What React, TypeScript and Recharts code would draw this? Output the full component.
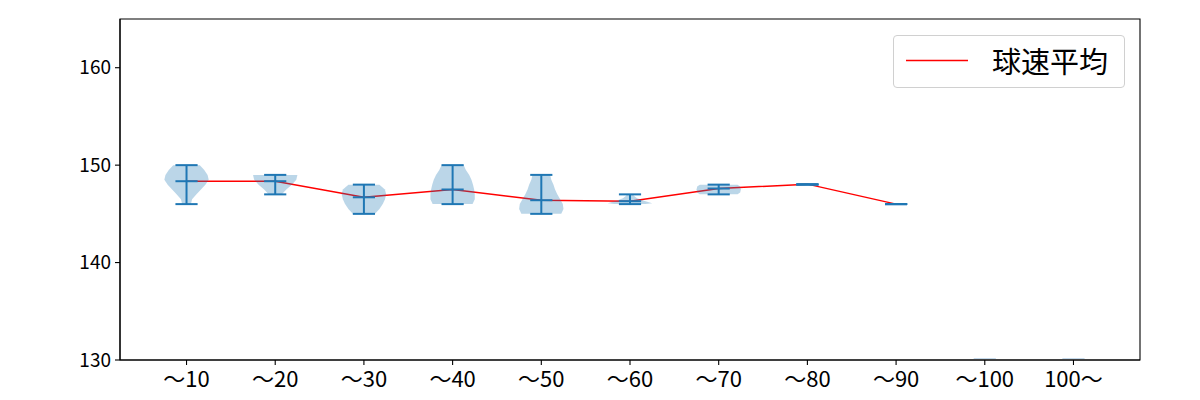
import React from 'react';
import { ComposedChart, XAxis, YAxis, Line, Scatter, ReferenceArea } from 'recharts';

const categories = ['〜10', '〜20', '〜30', '〜40', '〜50', '〜60', '〜70', '〜80', '〜90', '〜100', '100〜'];
const positions = [1, 2, 3, 4, 5, 6, 7, 8, 9, 10, 11];
const minVals: (number | null)[] = [146, 147, 145, 146, 145, 146, 147, 148, 146, null, null];
const maxVals: (number | null)[] = [150, 149, 148, 150, 149, 147, 148, 148, 146, null, null];
const meanVals: (number | null)[] = [148.35, 148.35, 146.7, 147.5, 146.4, 146.3, 147.6, 148.05, 146.0, null, null];
const emptyVals: (number | null)[] = [null, null, null, null, null, null, null, null, null, 130, 130];
const yTicks = [130, 140, 150, 160];
const legendLabel = '球速平均';

// violin density profiles (value, relative half width)
const v1Vals = [150, 149.5, 149, 148.5, 148, 147.5, 147, 146.5, 146];
const v1Dens = [0.6, 0.8, 0.95, 1.0, 0.85, 0.65, 0.45, 0.25, 0.2];
const v2Vals = [149, 148.5, 148, 147.5, 147];
const v2Dens = [1.0, 0.95, 0.75, 0.5, 0.3];
const v3Vals = [148, 147.5, 147, 146.5, 146, 145.5, 145];
const v3Dens = [0.7, 0.95, 1.0, 0.95, 0.85, 0.7, 0.5];
const v4Vals = [150, 149.5, 149, 148.5, 148, 147.5, 147, 146.5, 146];
const v4Dens = [0.5, 0.6, 0.75, 0.85, 0.92, 0.97, 1.0, 1.0, 0.9];
const v5Vals = [149, 148.5, 148, 147.5, 147, 146.5, 146, 145.5, 145];
const v5Dens = [0.4, 0.45, 0.55, 0.62, 0.72, 0.85, 0.97, 1.0, 0.9];
const v6Vals = [147, 146.8, 146.6, 146.4, 146.2, 146.1, 146];
const v6Dens = [0.12, 0.2, 0.32, 0.55, 0.85, 1.0, 0.7];
const v7Vals = [148, 147.8, 147.5, 147.2, 147];
const v7Dens = [0.85, 0.97, 1.0, 0.97, 0.85];

const violinVals = [v1Vals, v2Vals, v3Vals, v4Vals, v5Vals, v6Vals, v7Vals];
const violinDens = [v1Dens, v2Dens, v3Dens, v4Dens, v5Dens, v6Dens, v7Dens];

const VIOLIN_HALF = 0.25;
const BAR_HALF = 0.125;
const BLUE = '#1f77b4';
const FONT = '"Noto Sans CJK JP", "Noto Sans", sans-serif';

function violinPolygon(pos: number, vals: number[], dens: number[]) {
  const right = vals.map((v, i) => ({ x: pos + VIOLIN_HALF * dens[i], y: v }));
  const left = vals.map((v, i) => ({ x: pos - VIOLIN_HALF * dens[i], y: v })).reverse();
  return [...right, ...left];
}

const violinData = violinVals.map((vals, i) => violinPolygon(positions[i], vals, violinDens[i]));

const barSegments: { x: number; y: number }[] = [];
positions.forEach((p, i) => {
  const mn = minVals[i];
  const mx = maxVals[i];
  const me = meanVals[i];
  if (mn == null || mx == null || me == null) return;
  barSegments.push({ x: p, y: mn }, { x: p, y: mx });
  barSegments.push({ x: p - BAR_HALF, y: mn }, { x: p + BAR_HALF, y: mn });
  barSegments.push({ x: p - BAR_HALF, y: mx }, { x: p + BAR_HALF, y: mx });
  barSegments.push({ x: p - BAR_HALF, y: me }, { x: p + BAR_HALF, y: me });
});

const emptySegments: { x: number; y: number }[] = [];
positions.forEach((p, i) => {
  const e = emptyVals[i];
  if (e == null) return;
  emptySegments.push({ x: p - BAR_HALF, y: e }, { x: p + BAR_HALF, y: e });
});

const meanData = positions
  .map((p, i) => ({ x: p, y: meanVals[i] }))
  .filter((d) => d.y != null);

const NoShape = () => <g />;

const makeSegments = (color: string, width: number, opacity: number, dy: number) => (props: any) => {
  const pts = props.points || [];
  const out: React.ReactElement[] = [];
  for (let i = 0; i + 1 < pts.length; i += 2) {
    out.push(
      <line key={i} x1={pts[i].x} y1={pts[i].y + dy} x2={pts[i + 1].x} y2={pts[i + 1].y + dy}
        stroke={color} strokeWidth={width} strokeOpacity={opacity} />
    );
  }
  return <g>{out}</g>;
};

const polygonLine = (props: any) => {
  const pts = props.points || [];
  const s = pts.map((p: any) => `${p.x},${p.y}`).join(' ');
  return <polygon points={s} fill={BLUE} fillOpacity={0.3} stroke="none" />;
};

export default function App() {
  return (
    <div style={{ position: 'absolute', left: 0, top: 0, width: 1200, height: 400, background: '#fff' }}>
      <ComposedChart width={1200} height={400} margin={{ top: 19, right: 60, bottom: 0, left: 0 }}>
        <XAxis
          type="number"
          dataKey="x"
          domain={[0.25, 11.75]}
          ticks={positions}
          interval={0}
          allowDataOverflow
          tickFormatter={(v: number) => categories[Math.round(v) - 1]}
          height={40}
          tickSize={5}
          tickMargin={6}
          axisLine={{ stroke: '#000', strokeWidth: 1.1 }}
          tickLine={{ stroke: '#000', strokeWidth: 1.1 }}
          tick={{ fill: '#000', fontSize: 22, fontFamily: FONT }}
        />
        <YAxis
          type="number"
          dataKey="y"
          domain={[130, 165]}
          ticks={yTicks}
          interval={0}
          allowDataOverflow
          width={120}
          tickSize={5}
          tickMargin={4}
          axisLine={{ stroke: '#000', strokeWidth: 1.1 }}
          tickLine={{ stroke: '#000', strokeWidth: 1.1 }}
          tick={{ fill: '#000', fontSize: 19, fontFamily: FONT }}
        />
        <ReferenceArea x1={0.25} x2={11.75} y1={130} y2={165} fill="#fff" fillOpacity={0} stroke="#000" strokeWidth={1.1} />
        {violinData.map((d, i) => (
          <Scatter key={'v' + i} data={d} shape={NoShape} line={polygonLine} lineType="joint"
            isAnimationActive={false} legendType="none" fill={BLUE} />
        ))}
        <Scatter data={emptySegments} shape={NoShape} line={makeSegments('#9ec1e0', 1, 0.6, -1.5)} lineType="joint"
          isAnimationActive={false} legendType="none" fill={BLUE} />
        <Line data={meanData} dataKey="y" stroke="#ff0000" strokeWidth={1.5} dot={false}
          isAnimationActive={false} legendType="none" />
        <Scatter data={barSegments} shape={NoShape} line={makeSegments(BLUE, 2, 1, 0)} lineType="joint"
          isAnimationActive={false} legendType="none" fill={BLUE} />
      </ComposedChart>
      <div style={{
        position: 'absolute', left: 893, top: 35, width: 230, height: 51,
        border: '1px solid #d0d0d0', borderRadius: 4, background: 'rgba(255,255,255,0.8)',
      }}>
        <svg width={80} height={51} style={{ position: 'absolute', left: 0, top: 0 }}>
          <line x1={12} y1={24.5} x2={74} y2={24.5} stroke="#ff0000" strokeWidth={1.5} />
        </svg>
        <div style={{
          position: 'absolute', left: 98, top: 0, height: 51, lineHeight: '49px',
          fontSize: 29, fontFamily: FONT, color: '#000', whiteSpace: 'nowrap',
        }}>{legendLabel}</div>
      </div>
    </div>
  );
}
